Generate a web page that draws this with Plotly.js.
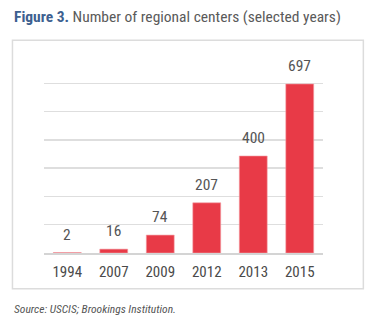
<!DOCTYPE html>
<html><head><meta charset="utf-8">
<script src="https://cdn.plot.ly/plotly-3.0.1.min.js"></script>
<style>html,body{margin:0;padding:0;background:#fff}#chart{width:382px;height:331px}</style>
</head><body><div id="chart"></div>
<script>
const years = ["1994","2007","2009","2012","2013","2015"];
const centers = [2, 16, 74, 207, 400, 697];

const FONT = "'Roboto Condensed','DejaVu Sans Condensed',sans-serif";
const L = 44, R = 322.7, T = 59.3, B = 253.3;
const W = R - L, H = B - T;
const px = x => (x - L) / W, py = y => (B - y) / H;

const trace = {
  type: 'bar', x: years, y: centers,
  marker: {color: '#e83a47', line: {color: '#f3a0a6', width: 0.6}},
  hoverinfo: 'none'
};

const valueLabels = years.map((yr, i) => ({
  xref: 'x', yref: 'y', x: i, y: centers[i], xanchor: 'center', yanchor: 'bottom',
  yshift: 7, showarrow: false, text: String(centers[i]),
  font: {family: FONT, size: 15.5, color: '#555'}
}));

const layout = {
  width: 382, height: 331,
  margin: {l: L, r: 382 - R, t: T, b: 331 - B, pad: 0},
  paper_bgcolor: '#fff', plot_bgcolor: '#fff',
  bargap: 0.4, showlegend: false,
  font: {family: FONT, color: '#444'},
  xaxis: {type: 'category', range: [-0.5, years.length - 0.5], showgrid: false, zeroline: false, showline: true,
          linecolor: '#d4d4d4', linewidth: 2, ticks: '',
          tickfont: {family: FONT, size: 15, color: '#4a4a4a'}, ticklabelstandoff: 4},
  yaxis: {range: [0, 800], tick0: 0, dtick: 700/6, showticklabels: false,
          showgrid: true, gridcolor: '#dedede', gridwidth: 1.5, zeroline: false, ticks: ''},
  shapes: [{type: 'rect', xref: 'paper', yref: 'paper', layer: 'below',
            x0: px(12.5), x1: px(363), y0: py(289), y1: py(40.5),
            line: {color: '#dcdcdc', width: 1.5}, fillcolor: 'rgba(0,0,0,0)'}],
  annotations: valueLabels.concat([
    {xref: 'paper', yref: 'paper', x: px(12), y: py(17), xanchor: 'left', yanchor: 'middle',
     showarrow: false, align: 'left',
     text: "<b><span style='color:#3d6090'>Figure 3.</span></b> Number of regional centers (selected years)",
     font: {family: FONT, size: 15.5, color: '#5a5a5a'}},
    {xref: 'paper', yref: 'paper', x: px(12), y: py(309), xanchor: 'left', yanchor: 'middle',
     showarrow: false, align: 'left',
     text: "<i>Source: USCIS; Brookings Institution.</i>",
     font: {family: FONT, size: 11.5, color: '#555'}}
  ])
};

Plotly.newPlot('chart', [trace], layout, {staticPlot: true, displayModeBar: false});
</script></body></html>
